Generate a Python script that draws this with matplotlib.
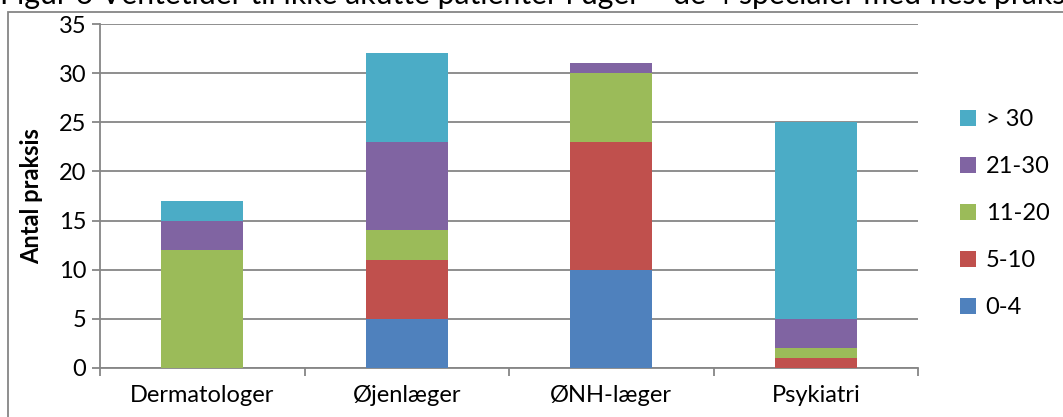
import matplotlib.pyplot as plt
import numpy as np
from matplotlib.patches import Rectangle

categories = ["Dermatologer", "Øjenlæger", "ØNH-læger", "Psykiatri"]
series_names = ["0-4", "5-10", "11-20", "21-30", "> 30"]
v_0_4 = [0, 5, 10, 0]
v_5_10 = [0, 6, 13, 1]
v_11_20 = [12, 3, 7, 1]
v_21_30 = [3, 9, 1, 3]
v_over_30 = [2, 9, 0, 20]
colors = ["#4F81BD", "#C0504D", "#9BBB59", "#8064A2", "#4BACC6"]

caption = "Figur 6 Ventetider til ikke akutte patienter i uger \u2013 de 4 specialer med flest praksis"

plt.rcParams["font.family"] = ["Lato", "DejaVu Sans"]
FS = 17

fig = plt.figure(figsize=(10.63, 4.17), dpi=100)
ax = fig.add_axes([100 / 1063, 1 - 368 / 417, 818 / 1063, 344 / 417])

x = np.arange(len(categories))
bottom = np.zeros(len(categories))
handles = []
for name, vals, col in zip(series_names, [v_0_4, v_5_10, v_11_20, v_21_30, v_over_30], colors):
    b = ax.bar(x, vals, 0.4, bottom=bottom, color=col, label=name, zorder=3)
    handles.append(b)
    bottom += np.array(vals)

ax.set_xlim(-0.5, 3.5)
ax.set_ylim(0, 35)
ax.set_yticks(range(0, 36, 5))
ax.yaxis.grid(True, color="#868686", linewidth=1.3, zorder=0)
ax.set_xticks(x)
ax.set_xticklabels(categories, fontsize=FS)
ax.set_xticks([-0.5, 0.5, 1.5, 2.5, 3.5], minor=True)
ax.tick_params(axis="x", which="major", length=0, pad=12)
ax.tick_params(axis="x", which="minor", length=6, width=1.3, color="#868686")
ax.tick_params(axis="y", length=6, width=1.3, color="#868686", labelsize=FS, pad=4)
for s in ["top", "right"]:
    ax.spines[s].set_visible(False)
for s in ["left", "bottom"]:
    ax.spines[s].set_color("#868686")
    ax.spines[s].set_linewidth(1.3)
ax.set_ylabel("Antal praksis", fontsize=FS, fontweight="bold", labelpad=11)

ax.legend(handles[::-1], series_names[::-1], loc="center left",
          bbox_to_anchor=(1.025, 0.448), frameon=False, fontsize=FS,
          handlelength=0.7, handleheight=0.7, handletextpad=0.4,
          labelspacing=1.1)

fig.patches.append(Rectangle((8 / 1063, -0.1), 1.2, 1.1 - 12 / 417, transform=fig.transFigure,
                             fill=False, edgecolor="#868686", linewidth=1.3))
fig.text(0.0, 1 - 4 / 417, caption, fontsize=21.7, va="baseline", ha="left")

fig.savefig("out.png", dpi=100)
